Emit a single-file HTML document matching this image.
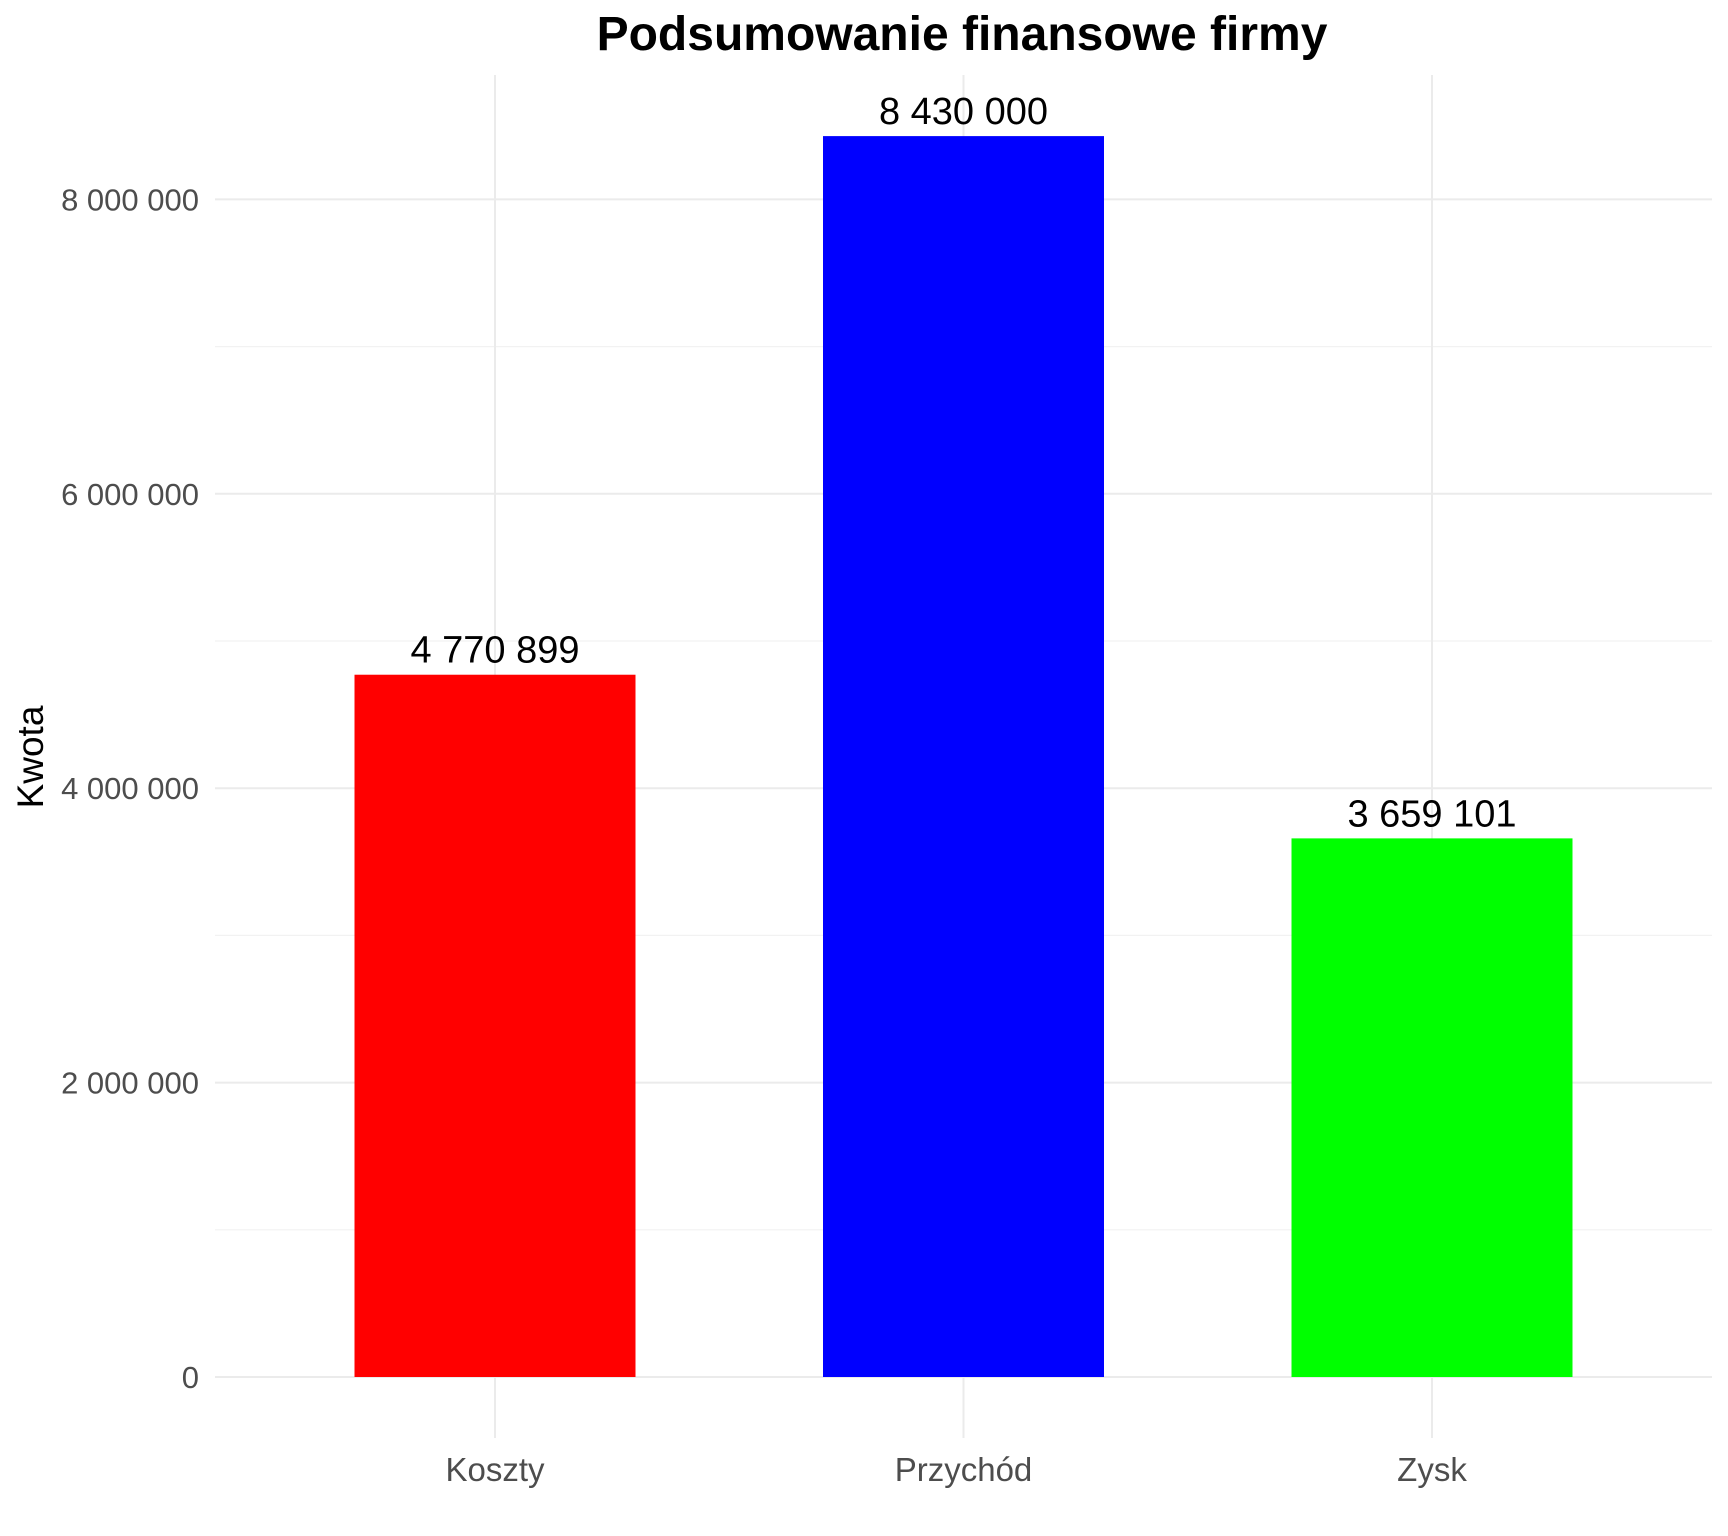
<!DOCTYPE html>
<html><head><meta charset="utf-8"><style>
html,body{margin:0;padding:0;background:#fff;}
svg{display:block;font-family:"Liberation Sans",Arial,sans-serif;}
</style></head><body>
<svg id="chart" width="1728" height="1536" viewBox="0 0 1728 1536">
<text x="962" y="50" text-anchor="middle" font-size="48" font-weight="bold" fill="#000">Podsumowanie finansowe firmy</text>
<text transform="translate(43,757) rotate(-90)" text-anchor="middle" font-size="37" fill="#000">Kwota</text>
<g id="grid"></g><g id="bars"></g><g id="labels"></g>
</svg>
<script>
const categories = ["Koszty", "Przychód", "Zysk"];
const values = [4770899, 8430000, 3659101];
const valueLabels = ["4 770 899", "8 430 000", "3 659 101"];
const colors = ["#ff0000", "#0000ff", "#00ff00"];
const yTicks = [0, 2000000, 4000000, 6000000, 8000000];
const yTickLabels = ["0", "2 000 000", "4 000 000", "6 000 000", "8 000 000"];
const yMinor = [1000000, 3000000, 5000000, 7000000];

const NS = "http://www.w3.org/2000/svg";
const plotLeft = 215, plotRight = 1712, plotTop = 75, plotBottom = 1438;
const y0 = 1377, pxPerUnit = 147.2 / 1000000;
const step = 468.5, firstX = 495, barW = 281;
function yScale(v){ return y0 - v * pxPerUnit; }
function xScale(i){ return firstX + i * step; }
function mk(tag, attrs, parent){ const e = document.createElementNS(NS, tag); for (const k in attrs) e.setAttribute(k, attrs[k]); parent.appendChild(e); return e; }
const gridG = document.getElementById("grid"), barsG = document.getElementById("bars"), labelsG = document.getElementById("labels");

yMinor.forEach(v => {
  const l = mk("line", {x1:plotLeft, x2:plotRight, y1:yScale(v), y2:yScale(v), stroke:"#f2f2f2", "stroke-width":1.2}, gridG);
  
  
});
yTicks.forEach((v, i) => {
  const l = mk("line", {x1:plotLeft, x2:plotRight, y1:yScale(v), y2:yScale(v), stroke:"#ebebeb", "stroke-width":2}, gridG);
  
  
  const t = mk("text", {x:199, y:yScale(v) + 11, "text-anchor":"end", "font-size":31, fill:"#4d4d4d"}, labelsG);
  t.textContent = yTickLabels[i];
  
  
});
categories.forEach((c, i) => {
  const x = xScale(i);
  const l = mk("line", {x1:x, x2:x, y1:plotTop, y2:plotBottom, stroke:"#ebebeb", "stroke-width":2}, gridG);
  
  
  const r = mk("rect", {x:x - barW/2, y:yScale(values[i]), width:barW, height:y0 - yScale(values[i]), fill:colors[i]}, barsG);
  
  
  const vl = mk("text", {x:x, y:yScale(values[i]) - 12, "text-anchor":"middle", "font-size":38, fill:"#000"}, labelsG);
  vl.textContent = valueLabels[i];
  
  
  const xl = mk("text", {x:x, y:1481, "text-anchor":"middle", "font-size":33, fill:"#4d4d4d"}, labelsG);
  xl.textContent = c;
  
  
});
</script>
</body></html>
